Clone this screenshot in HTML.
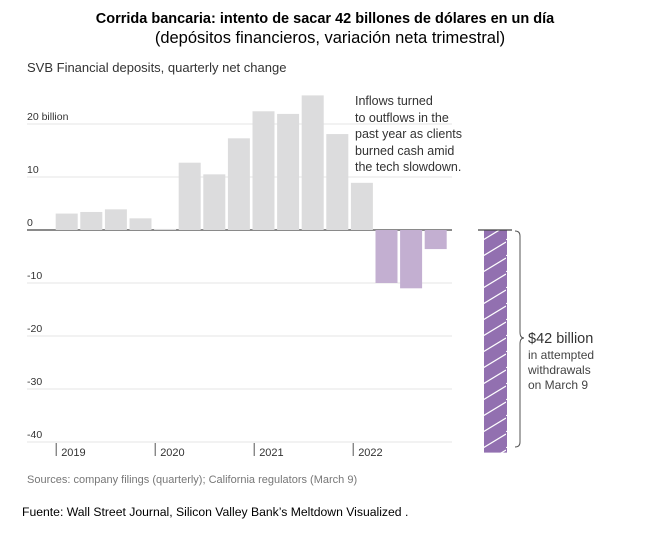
<!DOCTYPE html>
<html><head><meta charset="utf-8"><style>
body{margin:0;background:#fff;width:645px;height:529px;overflow:hidden;font-family:"Liberation Sans",Arial,sans-serif}
</style></head><body>
<svg width="645" height="529" xmlns="http://www.w3.org/2000/svg">
<defs><pattern id="hatch" patternUnits="userSpaceOnUse" width="23" height="16"><rect width="23" height="16" fill="#9270b0"/><line x1="0" y1="16" x2="23" y2="2" stroke="#fff" stroke-width="1.2"/></pattern></defs>
<text x="325" y="23" text-anchor="middle" font-size="14.5" font-weight="bold" fill="#000">Corrida bancaria: intento de sacar 42 billones de dólares en un día</text>
<text x="330" y="43" text-anchor="middle" font-size="16.5" fill="#000">(depósitos financieros, variación neta trimestral)</text>
<text x="27" y="72" font-size="13" fill="#333">SVB Financial deposits, quarterly net change</text>
<g id="grid"></g><g id="bars"></g><g id="axis"></g>
<g font-size="12.5" fill="#333">
<text x="355" y="105">Inflows turned</text><text x="355" y="122">to outflows in the</text><text x="355" y="138">past year as clients</text><text x="355" y="155">burned cash amid</text><text x="355" y="171">the tech slowdown.</text></g>
<g id="big"></g>
<path d="M515,231 q5,0 5,5 v96 q0,6 4,6 q-4,0 -4,6 v98 q0,5 -5,5" fill="none" stroke="#555" stroke-width="1"/>
<text x="528" y="343" font-size="14.5" fill="#333">$42 billion</text>
<g font-size="12" fill="#444"><text x="528" y="359">in attempted</text><text x="528" y="374">withdrawals</text><text x="528" y="389">on March 9</text></g>
<text x="27" y="483" font-size="11" fill="#777">Sources: company filings (quarterly); California regulators (March 9)</text>
<text x="22" y="516" font-size="12.2" fill="#000">Fuente: Wall Street Journal, Silicon Valley Bank’s Meltdown Visualized .</text>
</svg>
<script>
const values=[3.1,3.4,3.9,2.2,0.2,12.7,10.5,17.3,22.4,21.9,25.4,18.1,8.9,-10,-11,-3.6];
const bigValue=[-42];
const yTicks=[20,10,0,-10,-20,-30,-40];
const yLabels=["20 billion","10","0","-10","-20","-30","-40"];
const years=["2019","2020","2021","2022"];
const NS="http://www.w3.org/2000/svg";
const y=v=>230-v*5.3, x=i=>55.7+i*24.6;
function mk(t,a,p){const e=document.createElementNS(NS,t);for(const k in a)e.setAttribute(k,a[k]);p.appendChild(e);return e;}
const g=document.getElementById('grid');
yTicks.forEach((t,i)=>{
 const l=mk('line',{x1:27,x2:452,y1:y(t),y2:y(t),stroke:t===0?'#444':'#e4e4e4','stroke-width':t===0?1.3:1},g);
 
 
 const tx=mk('text',{x:27,y:y(t)-4,'font-size':10.5,fill:'#333'},g);tx.textContent=yLabels[i];
 
 
});
const b=document.getElementById('bars');
values.forEach((v,i)=>{
 const r=mk('rect',{x:x(i),width:22,y:Math.min(y(v),y(0)),height:Math.abs(y(v)-y(0)),fill:v<0?'#c3afd1':'#dcdcdd'},b);
 
 
});
const a=document.getElementById('axis');
years.forEach((yr,i)=>{
 const xx=x(i*4)+0.5+i*0.6;
 mk('line',{x1:xx,x2:xx,y1:443,y2:456,stroke:'#555'},a);
 const t=mk('text',{x:xx+5,y:456,'font-size':11,fill:'#333'},a);t.textContent=yr;
 
 
});
const bg=document.getElementById('big');
const br=mk('rect',{x:484,width:23,y:y(0),height:y(bigValue[0])-y(0),fill:'url(#hatch)'},bg);


mk('line',{x1:478,x2:512,y1:y(0),y2:y(0),stroke:'#444','stroke-width':1.3},bg);
</script>
</body></html>
